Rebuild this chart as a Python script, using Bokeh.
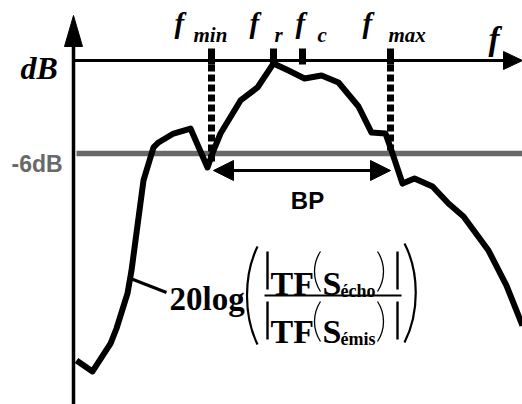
from bokeh.plotting import figure
from bokeh.models import Range1d, Label, Arrow, NormalHead
from bokeh.embed import file_html
from bokeh.resources import INLINE

# ---- data (frequency in arbitrary units, gain in dB) ----
freq = [0.3, 1.9, 3.7, 4.3, 5.4, 5.8, 7.0, 8.0, 8.5, 10.0, 11.7, 13.4, 14.0, 14.7,
        16.7, 18.4, 20.0, 21.5, 23.1, 24.8, 26.5, 28.5, 29.8, 31.2, 31.8, 32.9,
        34.1, 35.9, 37.5, 39.0, 41.5, 43.3, 44.9]
gain_db = [-19.35, -20.06, -18.26, -17.29, -15.03, -13.55, -7.74, -5.61, -5.29,
           -4.71, -4.39, -6.90, -5.81, -4.71, -2.58, -1.74, -0.19, -0.65, -1.16,
           -0.97, -1.42, -2.97, -4.65, -4.71, -5.81, -7.94, -7.61, -8.13, -9.23,
           -10.06, -12.26, -14.52, -17.10]
marker_names = ["min", "r", "c", "max"]
marker_freq = [13.8, 20.0, 22.9, 31.7]
level_db = -6.0
level_label = "-6dB"
band_label = "BP"

# ---- reference-pixel helpers (schematic layout) ----
PX_PER_F = 10.0
PX_PER_DB = 15.5
X0, Y0 = 73.0, 60.0
W, H = 522, 404


def fx(X):
    return (X - X0) / PX_PER_F


def dy(Y):
    return (Y0 - Y) / PX_PER_DB


p = figure(width=W, height=H, output_backend="svg", toolbar_location=None,
           x_range=Range1d(fx(0), fx(W)), y_range=Range1d(dy(H), dy(0)),
           min_border=0)
p.axis.visible = False
p.grid.visible = False
p.outline_line_color = None
p.background_fill_color = "white"

SERIF = "Liberation Serif"
SANS = "Liberation Sans"

# -6 dB level line
p.segment(x0=[fx(76)], y0=[level_db], x1=[fx(W)], y1=[level_db],
          line_color="#696969", line_width=5.5)

# axes with arrowheads
p.segment(x0=[0], y0=[dy(H)], x1=[0], y1=[dy(40)], line_color="black", line_width=3.5)
p.patch(x=[0, fx(64), fx(82)], y=[dy(15), dy(46), dy(46)], color="black")
p.segment(x0=[0], y0=[0], x1=[fx(510)], y1=[0], line_color="black", line_width=3)
p.patch(x=[fx(522), fx(503), fx(503)], y=[0, dy(51), dy(69)], color="black")

# frequency marker ticks
p.segment(x0=marker_freq, y0=[dy(48)] * 4, x1=marker_freq, y1=[dy(64)] * 4,
          line_color="black", line_width=7)
# dashed verticals for fmin / fmax
p.segment(x0=[marker_freq[0], marker_freq[3]], y0=[dy(64)] * 2,
          x1=[marker_freq[0], marker_freq[3]], y1=[dy(164), dy(150)],
          line_color="black", line_width=7, line_dash="7 3")

# response curve
p.line(freq, gain_db, line_color="black", line_width=6, line_join="round")

# BP double arrow
p.add_layout(Arrow(x_start=fx(213), y_start=dy(170), x_end=fx(390), y_end=dy(170),
                   line_width=3, line_color="black",
                   start=NormalHead(size=20, fill_color="black", line_color="black"),
                   end=NormalHead(size=20, fill_color="black", line_color="black")))


def lab(text, X, Y, font, size, style="normal", color="black", align="left",
        baseline="alphabetic"):
    p.add_layout(Label(x=fx(X), y=dy(Y), text=text, text_font=font,
                       text_font_size=f"{size}px", text_font_style=style,
                       text_color=color, text_align=align, text_baseline=baseline))


lab("dB", 20, 67, SERIF, 32, "bold italic")
lab(level_label, 11, 163, SANS, 23, "bold", color="#696969")
lab(band_label, 307, 200, SANS, 24, "bold", align="center")

# f labels
f_pos = [(174, 193), (249, 274), (295, 317), (362, 388)]
for (fxp, sxp), name in zip(f_pos, marker_names):
    lab("f", fxp, 22, SERIF, 29, "bold italic")
    lab(name, sxp, 34, SERIF, 21, "bold italic")
lab("f", 488, 38, SERIF, 33, "bold italic")

# formula
p.segment(x0=[fx(130)], y0=[dy(278)], x1=[fx(166)], y1=[dy(292)],
          line_color="black", line_width=3)
lab("20log", 169, 298, SERIF, 33, "bold")
# big parentheses
p.bezier(x0=[fx(257), fx(404)], y0=[dy(246), dy(243)],
         x1=[fx(257), fx(404)], y1=[dy(344), dy(342)],
         cx0=[fx(243), fx(419)], cy0=[dy(275), dy(272)],
         cx1=[fx(243), fx(419)], cy1=[dy(315), dy(312)],
         line_color="black", line_width=2.2)
# fraction bar
p.segment(x0=[fx(264)], y0=[dy(295)], x1=[fx(401)], y1=[dy(295)],
          line_color="black", line_width=2)
for top, bot, base, subbase, sub in [(251, 289, 283, 290, "écho"),
                                      (301, 339, 331, 338, "émis")]:
    p.segment(x0=[fx(267), fx(397)], y0=[dy(top)] * 2, x1=[fx(267), fx(397)],
              y1=[dy(bot)] * 2, line_color="black", line_width=2.4)
    lab("TF", 270, base, SERIF, 34, "bold")
    lab("S", 322, base, SERIF, 34, "bold")
    lab(sub, 340, subbase, SERIF, 18, "bold")
    # small parentheses
    p.bezier(x0=[fx(320), fx(377)], y0=[dy(top), dy(top)],
             x1=[fx(320), fx(377)], y1=[dy(bot + 2), dy(bot + 2)],
             cx0=[fx(312), fx(385)], cy0=[dy(top + 12), dy(top + 12)],
             cx1=[fx(312), fx(385)], cy1=[dy(bot - 10), dy(bot - 10)],
             line_color="black", line_width=1.3)

open("out.html", "w").write(file_html(p, INLINE))
